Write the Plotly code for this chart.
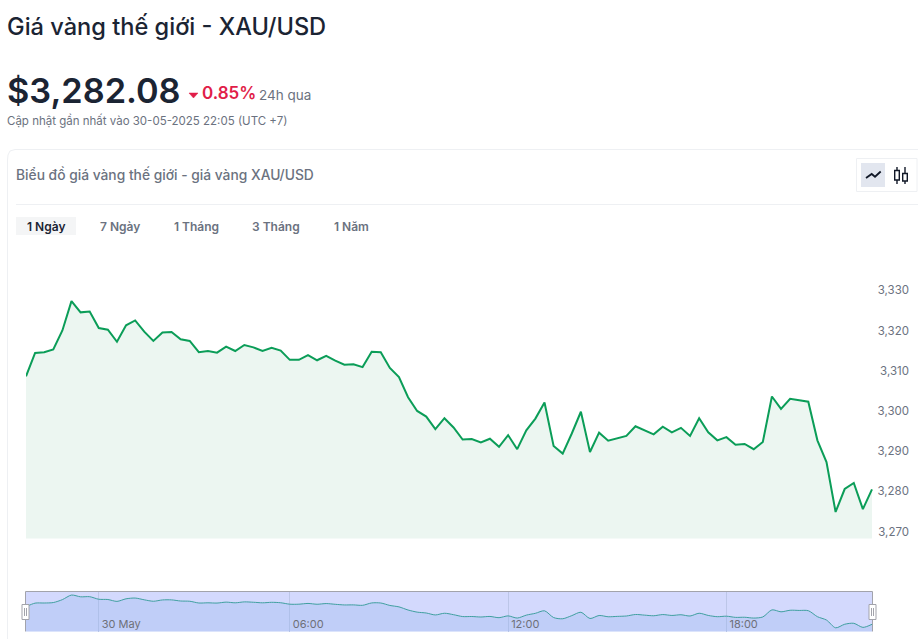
import plotly.graph_objects as go

W, H = 918, 639
FONT = "Inter"

times = [
 "29/05 22:00","29/05 22:15","29/05 22:30","29/05 22:45","29/05 23:00","29/05 23:15","29/05 23:30","29/05 23:45",
 "30/05 00:00","30/05 00:15","30/05 00:30","30/05 00:45","30/05 01:00","30/05 01:15","30/05 01:30","30/05 01:45",
 "30/05 02:00","30/05 02:15","30/05 02:30","30/05 02:45","30/05 03:00","30/05 03:15","30/05 03:30","30/05 03:45",
 "30/05 04:45","30/05 05:00","30/05 05:15","30/05 05:30","30/05 05:45",
 "30/05 06:00","30/05 06:15","30/05 06:30","30/05 06:45","30/05 07:00","30/05 07:15","30/05 07:30","30/05 07:45",
 "30/05 08:00","30/05 08:15","30/05 08:30","30/05 08:45","30/05 09:00","30/05 09:15","30/05 09:30","30/05 09:45",
 "30/05 10:00","30/05 10:15","30/05 10:30","30/05 10:45","30/05 11:00","30/05 11:15","30/05 11:30","30/05 11:45",
 "30/05 12:00","30/05 12:15","30/05 12:30","30/05 12:45","30/05 13:00","30/05 13:15","30/05 13:30","30/05 13:45",
 "30/05 14:00","30/05 14:15","30/05 14:30","30/05 14:45","30/05 15:00","30/05 15:15","30/05 15:30","30/05 15:45",
 "30/05 16:00","30/05 16:15","30/05 16:30","30/05 16:45","30/05 17:00","30/05 17:15","30/05 17:30","30/05 17:45",
 "30/05 18:00","30/05 18:15","30/05 18:30","30/05 18:45","30/05 19:00","30/05 19:15","30/05 19:30","30/05 19:45",
 "30/05 20:00","30/05 20:15","30/05 20:30","30/05 20:45","30/05 21:00","30/05 21:15","30/05 21:30","30/05 21:45",
 "30/05 22:00",
]
prices = [
 3308.6,3314.4,3314.6,3315.3,3320.0,3327.3,3324.5,3324.7,3320.6,3320.2,
 3317.2,3321.3,3322.5,3319.7,3317.4,3319.5,3319.6,3317.8,3317.4,3314.6,
 3314.9,3314.5,3316.0,3314.9,3316.4,3315.8,3314.9,3315.7,3315.0,3312.7,
 3312.7,3313.9,3312.6,3313.7,3312.5,3311.5,3311.6,3310.9,3314.7,3314.6,
 3310.7,3308.4,3303.4,3300.0,3298.6,3295.5,3298.2,3295.9,3292.9,3293.0,
 3292.2,3293.1,3291.1,3294.0,3290.5,3295.2,3298.1,3302.1,3291.3,3289.4,
 3294.4,3299.8,3289.8,3294.6,3292.6,3293.2,3293.8,3296.2,3295.2,3294.2,
 3296.1,3294.7,3295.8,3293.8,3298.2,3294.7,3292.7,3293.5,3291.6,3291.8,
 3290.5,3292.3,3303.6,3300.5,3303.0,3302.7,3302.3,3292.7,3287.3,3274.9,
 3280.6,3282.1,3275.6,3280.5,
]
floor_values = [3268.3] * len(times)
y_ticks = [3270, 3280, 3290, 3300, 3310, 3320, 3330]
slider_ticks = ["30/05 00:00", "30/05 06:00", "30/05 12:00", "30/05 18:00"]
slider_labels = ["30 May", "06:00", "12:00", "18:00"]

def fx(p): return p / W
def fy(p): return 1 - p / H

fig = go.Figure()
fig.add_trace(go.Scatter(
    x=times, y=floor_values, mode="lines", xaxis="x", yaxis="y",
    line=dict(color="rgba(0,0,0,0)", width=0), hoverinfo="skip", showlegend=False))
fig.add_trace(go.Scatter(
    x=times, y=prices, mode="lines", xaxis="x", yaxis="y",
    line=dict(color="#0b9d58", width=2), fill="tonexty",
    fillcolor="rgba(15,140,80,0.078)", hoverinfo="skip", showlegend=False))
fig.add_trace(go.Scatter(
    x=times, y=prices, mode="lines", xaxis="x2", yaxis="y2",
    line=dict(color="#3f9f9f", width=1, shape="spline", smoothing=0.8), fill="tozeroy",
    fillcolor="rgba(135,175,234,0.25)", hoverinfo="skip", showlegend=False))

def rect(x0, y0, x1, y1, fill="rgba(0,0,0,0)", line="rgba(0,0,0,0)", lw=1, layer="below"):
    return dict(type="rect", xref="paper", yref="paper", x0=fx(x0), x1=fx(x1), y0=fy(y0), y1=fy(y1),
                fillcolor=fill, line=dict(color=line, width=lw), layer=layer)

def path(points, close=False, fill=None, line="#111827", lw=1.5, layer="above"):
    d = "M" + " L".join(f"{fx(a):.5f},{fy(b):.5f}" for a, b in points) + (" Z" if close else "")
    s = dict(type="path", xref="paper", yref="paper", path=d, line=dict(color=line, width=lw), layer=layer)
    if fill:
        s["fillcolor"] = fill
    return s

shapes = [
    # card outline
    path([(918, 149.5), (15, 149.5), (10, 151), (8, 155), (7.5, 160), (7.5, 639)], line="#eef0f3", lw=1, layer="below"),
    path([(16, 204.5), (918, 204.5)], line="#eef0f3", lw=1, layer="below"),
    # active tab chip
    rect(16, 217, 76, 235, fill="#f4f5f6"),
    # chart type toggle
    rect(856.5, 158.5, 917, 191.5, line="#eef0f3"),
    rect(861, 163, 885, 187, fill="#e2e6ef"),
    path([(866, 178), (871.7, 174), (875, 176.7), (880.7, 171.5)], line="#111827", lw=1.8),
    # candlestick icon
    path([(897, 167), (897, 170.5)], line="#111827", lw=1.4),
    path([(897, 180), (897, 184)], line="#111827", lw=1.4),
    path([(905, 167), (905, 173.5)], line="#111827", lw=1.4),
    path([(905, 181), (905, 184)], line="#111827", lw=1.4),
    rect(894.7, 170.5, 899.3, 180, line="#111827", lw=1.4, layer="above"),
    rect(902.7, 173.5, 907.3, 181, line="#111827", lw=1.4, layer="above"),
    # down triangle
    path([(189, 93), (198, 93), (193.5, 98)], close=True, fill="#e11d48", line="#e11d48", lw=0.5),
    # slider background and border
    rect(26, 591.5, 872, 631.5, fill="#d3d9fd", layer="below"),
    path([(25.5, 631.5), (25.5, 591.5), (872.5, 591.5), (872.5, 631.5)], line="#a2a3ab", lw=1),
    # slider handles
    rect(22, 604.5, 29, 619.5, fill="#ffffff", line="#a2a3ab", layer="above"),
    rect(869, 604.5, 876, 619.5, fill="#ffffff", line="#a2a3ab", layer="above"),
    path([(24.5, 608), (24.5, 616)], line="#a2a3ab", lw=1),
    path([(26.5, 608), (26.5, 616)], line="#a2a3ab", lw=1),
    path([(871.5, 608), (871.5, 616)], line="#a2a3ab", lw=1),
    path([(873.5, 608), (873.5, 616)], line="#a2a3ab", lw=1),
]

def label(text, x, y, size, color, weight=400, anchor="left"):
    return dict(text=text, x=fx(x), y=fy(y), xref="paper", yref="paper", showarrow=False,
                xanchor=anchor, yanchor="middle", borderpad=0, borderwidth=0,
                font=dict(family=FONT, size=size, color=color, weight=weight))

annotations = [
    label("Giá vàng thế giới - XAU/USD", 7, 27, 23.6, "#1b2433", 500),
    label("$3,282.08", 7, 90, 34.3, "#1b2433", 600),
    label("0.85%", 202, 93, 17, "#e11d48", 600),
    label("24h qua", 259, 95, 13.5, "#6b7280"),
    label("Cập nhật gần nhất vào 30-05-2025 22:05 (UTC +7)", 7, 120, 11.5, "#6b7280"),
    label("Biểu đồ giá vàng thế giới - giá vàng XAU/USD", 16, 175, 13.8, "#6b7280", 500),
    label("1 Ngày", 46, 226.5, 12, "#1b2433", 600, "center"),
    label("7 Ngày", 119.5, 226.5, 12, "#6b7280", 600, "center"),
    label("1 Tháng", 196, 226.5, 12, "#6b7280", 600, "center"),
    label("3 Tháng", 276, 226.5, 12, "#6b7280", 600, "center"),
    label("1 Năm", 351, 226.5, 12, "#6b7280", 600, "center"),
]

fig.update_layout(
    width=W, height=H, margin=dict(l=0, r=0, t=0, b=0, pad=0),
    paper_bgcolor="#ffffff", plot_bgcolor="rgba(0,0,0,0)",
    font=dict(family=FONT), showlegend=False, hovermode=False,
    shapes=shapes, annotations=annotations,
    xaxis=dict(domain=[fx(26), fx(912)], type="category", categoryorder="array", categoryarray=times,
               range=[0, 97.4], visible=False, fixedrange=True),
    yaxis=dict(domain=[fy(560), fy(250)], range=[3262.96, 3340], side="right", anchor="x",
               tickvals=y_ticks, ticktext=[f"{v:,}" for v in y_ticks], ticklabelposition="inside",
               tickfont=dict(family=FONT, size=11.5, color="#6b7280"), showgrid=False, zeroline=False,
               showline=False, ticks="", fixedrange=True),
    xaxis2=dict(domain=[fx(26), fx(872)], type="category", categoryorder="array", categoryarray=times,
                range=[0, 93], anchor="y2", tickmode="array", tickvals=slider_ticks, ticktext=slider_labels,
                ticklabelposition="inside right", ticklabelshift=3, ticklabelstandoff=-5,
                tickfont=dict(family=FONT, size=11, color="#6e7079"),
                showgrid=True, gridcolor="#bcc6e8", gridwidth=1, zeroline=False, showline=False, ticks="",
                fixedrange=True),
    yaxis2=dict(domain=[fy(631.5), fy(591.5)], range=[3269, 3333], anchor="x2", visible=False, fixedrange=True),
)

fig.write_html("out.html", config=dict(displayModeBar=False),
               post_script="document.body.style.margin='0';document.body.style.overflow='hidden';")
